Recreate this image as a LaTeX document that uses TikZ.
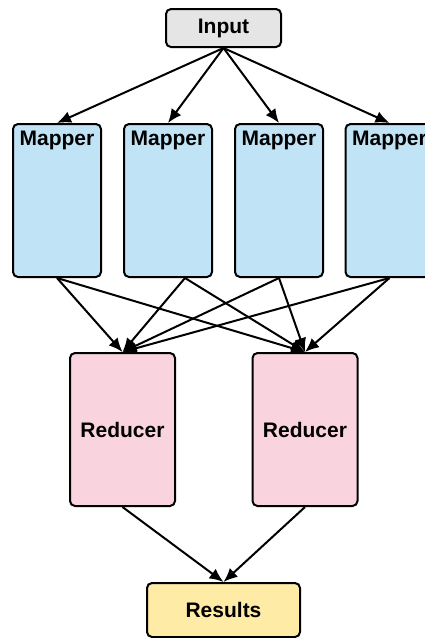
\documentclass[tikz,border=0pt]{standalone}
\usepackage{fontspec}
\setmainfont{Liberation Sans}
\usetikzlibrary{arrows.meta}
\definecolor{inputgray}{RGB}{229,229,229}
\definecolor{mapblue}{RGB}{192,228,245}
\definecolor{redpink}{RGB}{249,212,223}
\definecolor{resyellow}{RGB}{253,235,166}
\newcommand{\boxfont}{\bfseries\fontsize{21}{25}\selectfont}
\begin{document}
\begin{tikzpicture}[
  x=1pt, y=1pt,
  box/.style={draw, line width=2pt, rounded corners=5pt, inner sep=0pt},
  inbox/.style={box, fill=inputgray, minimum width=115pt, minimum height=38pt, font=\boxfont},
  maplabel/.style={anchor=north, yshift=-3.5pt, font=\boxfont},
  mapper/.style={box, fill=mapblue, minimum width=88pt, minimum height=153pt,
    label={[maplabel]north:Mapper}},
  reducer/.style={box, fill=redpink, minimum width=105pt, minimum height=153pt, font=\boxfont},
  resbox/.style={box, fill=resyellow, minimum width=153pt, minimum height=54pt, font=\boxfont},
  -{Latex[length=14pt, width=12pt]}, line width=2pt,
]
  \useasboundingbox (0,0) rectangle (425,-638);

  \node[inbox] (in) at (223.5, -28) {Input};
  \foreach \m/\x in {1/57, 2/168, 3/279, 4/389.5} {
    \node[mapper] (m\m) at (\x, -200.5) {};
  }
  \node[reducer] (r1) at (122.5, -429.5) {Reducer};
  \node[reducer] (r2) at (305, -429.5) {Reducer};
  \node[resbox] (res) at (223.5, -610) {Results};

  \foreach \m in {1,...,4} {
    \draw (in.south) to (m\m.north);
  }

  \draw (m1.south) to (r1.north);
  \draw (m1.south) to (r2.north);
  \draw ([xshift=17pt]m2.south) to (r1.north);
  \draw ([xshift=17pt]m2.south) to (r2.north);
  \draw (m3.south) to (r1.north);
  \draw (m3.south) to (r2.north);
  \draw (m4.south) to (r1.north);
  \draw (m4.south) to (r2.north);

  \draw (r1.south) to (res.north);
  \draw (r2.south) to (res.north);
\end{tikzpicture}
\end{document}
